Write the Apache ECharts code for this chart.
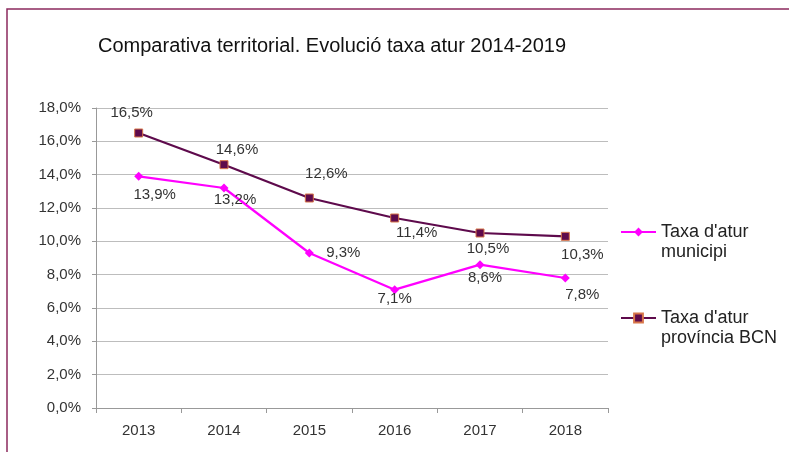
<!DOCTYPE html>
<html>
<head>
<meta charset="utf-8">
<script src="https://cdn.jsdelivr.net/npm/echarts@6/dist/echarts.min.js"></script>
<style>
  html, body { margin: 0; padding: 0; background: #fff; }
  #chart { width: 789px; height: 452px; }
</style>
</head>
<body>
<div id="chart"></div>
<script>
// dades
var years = ['2013', '2014', '2015', '2016', '2017', '2018'];
var municipi = [13.9, 13.2, 9.3, 7.1, 8.6, 7.8];
var provincia = [16.5, 14.6, 12.6, 11.4, 10.5, 10.3];

function pct(v) {
    return v.toFixed(1).replace('.', ',') + '%';
}

// desplaçament de cada etiqueta respecte al punt
var offMun = [[16, 19], [11, 12], [34, 0], [0, 9], [5, 13], [17, 17]];
var offProv = [[-7, -20], [13, -15], [17, -24], [22, 15], [8, 16], [17, 19]];

function withLabels(vals, offs) {
    return vals.map(function (v, i) {
        return { value: v, label: { offset: offs[i] } };
    });
}

var labelStyle = {
    show: true,
    position: 'inside',
    align: 'center',
    verticalAlign: 'middle',
    color: '#333',
    fontFamily: 'Liberation Sans',
    fontSize: 15,
    formatter: function (p) { return pct(p.value); }
};

var chart = echarts.init(document.getElementById('chart'));
chart.setOption({
    animation: false,
    backgroundColor: '#fff',
    title: {
        text: 'Comparativa territorial. Evolució taxa atur 2014-2019',
        left: 93,
        top: 31,
        textStyle: { fontFamily: 'Liberation Sans', fontSize: 20, fontWeight: 'normal', color: '#111' }
    },
    graphic: [{
        type: 'rect',
        shape: { x: 7, y: 9, width: 800, height: 500 },
        style: { fill: 'none', stroke: '#8c2a5e', lineWidth: 1.5 },
        silent: true
    }],
    legend: {
        orient: 'vertical',
        left: 615,
        top: 197,
        itemWidth: 35,
        itemHeight: 11,
        itemGap: 26,
        // primera línia del nom a l'altura de la icona
        formatter: function (name) { return ' \n' + name; },
        textStyle: {
            fontFamily: 'Liberation Sans',
            fontSize: 18,
            lineHeight: 20,
            color: '#222'
        },
        data: ["Taxa d'atur\nmunicipi", "Taxa d'atur\nprovíncia BCN"]
    },
    grid: { left: 96, right: 181, top: 108, bottom: 44 },
    xAxis: {
        type: 'category',
        data: years,
        boundaryGap: true,
        axisLine: { lineStyle: { color: '#999' } },
        axisTick: { show: true, length: 5, lineStyle: { color: '#999' } },
        axisLabel: { color: '#333', fontFamily: 'Liberation Sans', fontSize: 15, margin: 15 }
    },
    yAxis: {
        type: 'value',
        min: 0,
        max: 18,
        interval: 2,
        axisLine: { show: true, lineStyle: { color: '#999' } },
        axisTick: { show: true, length: 4, lineStyle: { color: '#999' } },
        splitLine: { lineStyle: { color: '#bdbdbd' } },
        axisLabel: {
            color: '#333', fontFamily: 'Liberation Sans', fontSize: 15, margin: 15,
            formatter: function (v) { return pct(v); }
        }
    },
    series: [{
        name: "Taxa d'atur\nmunicipi",
        type: 'line',
        data: withLabels(municipi, offMun),
        symbol: 'diamond',
        symbolSize: 9,
        color: '#ff00ff',
        lineStyle: { width: 2.2, color: '#ff00ff' },
        itemStyle: { color: '#ff00ff' },
        label: labelStyle
    }, {
        name: "Taxa d'atur\nprovíncia BCN",
        type: 'line',
        data: withLabels(provincia, offProv),
        symbol: 'rect',
        symbolSize: 8,
        color: '#5e0a4c',
        lineStyle: { width: 2.2, color: '#5e0a4c' },
        itemStyle: { color: '#5e0a4c', borderColor: '#d8764a', borderWidth: 1 },
        label: labelStyle
    }]
});
</script>
</body>
</html>
